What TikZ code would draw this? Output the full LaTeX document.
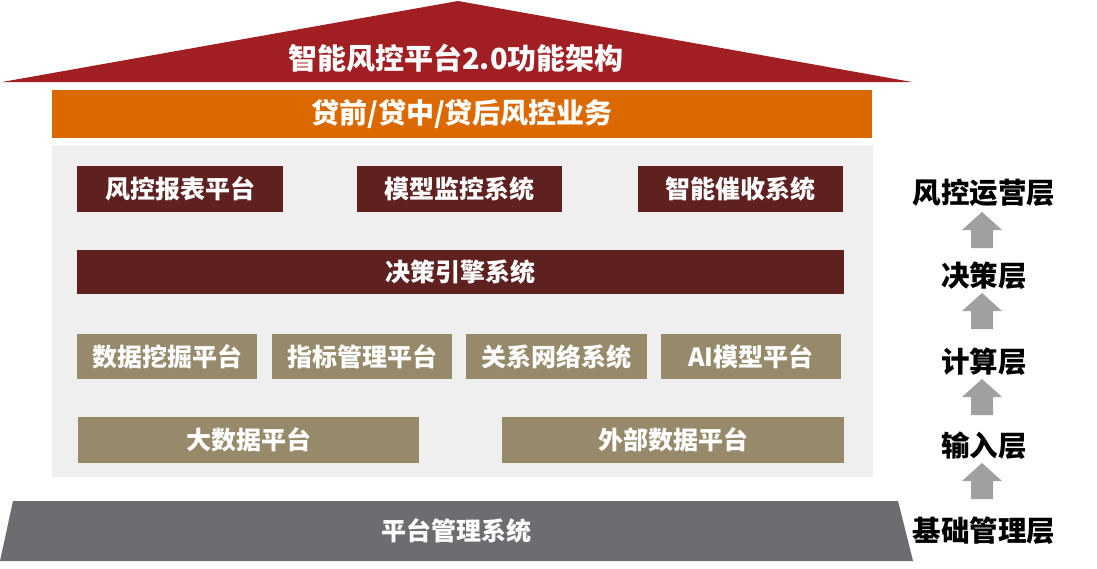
\documentclass[tikz,border=0pt]{standalone}
\usepackage{fontspec}
\setmainfont{Noto Sans CJK SC}
\definecolor{roofred}{HTML}{A11F22}
\definecolor{bizorange}{HTML}{DC6900}
\definecolor{bggray}{HTML}{EFEFEF}
\definecolor{maroon}{HTML}{5F2120}
\definecolor{tan}{HTML}{968A6B}
\definecolor{basegray}{HTML}{6C6D71}
\definecolor{arrowgray}{HTML}{A0A0A0}
\tikzset{
  box/.style={rectangle, inner sep=0pt, text=white, font=\bfseries\fontsize{25}{25}\selectfont},
  toprow/.style={box, fill=maroon, minimum height=46pt},
  midrow/.style={box, fill=tan, minimum height=45pt},
  layerlabel/.style={inner sep=0pt, text=black, font=\bfseries\fontsize{28.5}{28.5}\selectfont},
  uparrow/.pic={\fill[arrowgray] (-11,0) -- (11,0) -- (11,-18) -- (20,-18) -- (0,-36) -- (-20,-18) -- (-11,-18) -- cycle;}
}
\begin{document}
\begin{tikzpicture}[x=1pt,y=-1pt]
\useasboundingbox (0,0) rectangle (1097,568);
% roof
\fill[roofred] (2,82) -- (458,1) -- (912,82) -- cycle;
\node[inner sep=0pt, text=white, font=\bfseries\fontsize{29}{29}\selectfont] (title) at (456,58) {智能风控平台2.0功能架构};
% business bar
\node[box, fill=bizorange, minimum width=820pt, minimum height=48pt, font=\bfseries\fontsize{28}{28}\selectfont] (biz) at (462,114) {贷前/贷中/贷后风控业务};
% gray background
\fill[bggray] (52,145) rectangle (873,477);
% row 1
\node[toprow, minimum width=206pt] (r1a) at (180,189) {风控报表平台};
\node[toprow, minimum width=205pt] (r1b) at (459.5,189) {模型监控系统};
\node[toprow, minimum width=205pt] (r1c) at (740.5,189) {智能催收系统};
% row 2
\node[toprow, minimum width=767pt, minimum height=44pt] (r2) at (460.5,272) {决策引擎系统};
% row 3
\node[midrow, minimum width=180pt] (r3a) at (167,356.5) {数据挖掘平台};
\node[midrow, minimum width=180pt] (r3b) at (362,356.5) {指标管理平台};
\node[midrow, minimum width=181pt] (r3c) at (556.5,356.5) {关系网络系统};
\node[midrow, minimum width=180pt] (r3d) at (751,356.5) {AI模型平台};
% row 4
\node[midrow, minimum width=341pt, minimum height=46pt] (r4a) at (248.5,440) {大数据平台};
\node[midrow, minimum width=342pt, minimum height=46pt] (r4b) at (673,440) {外部数据平台};
% base
\fill[basegray] (13,501) -- (898,501) -- (913,561) -- (0,561) -- cycle;
\node[box] (base) at (456,531) {平台管理系统};
% layer labels
\node[layerlabel] (l1) at (984,193) {风控运营层};
\node[layerlabel] (l2) at (984,276) {决策层};
\node[layerlabel] (l3) at (984,362) {计算层};
\node[layerlabel] (l4) at (984,446) {输入层};
\node[layerlabel] (l5) at (984,531) {基础管理层};
% arrows
\pic at (982,248) {uparrow};
\pic at (982,329) {uparrow};
\pic at (982,415) {uparrow};
\pic at (982,499) {uparrow};
\end{tikzpicture}
\end{document}
